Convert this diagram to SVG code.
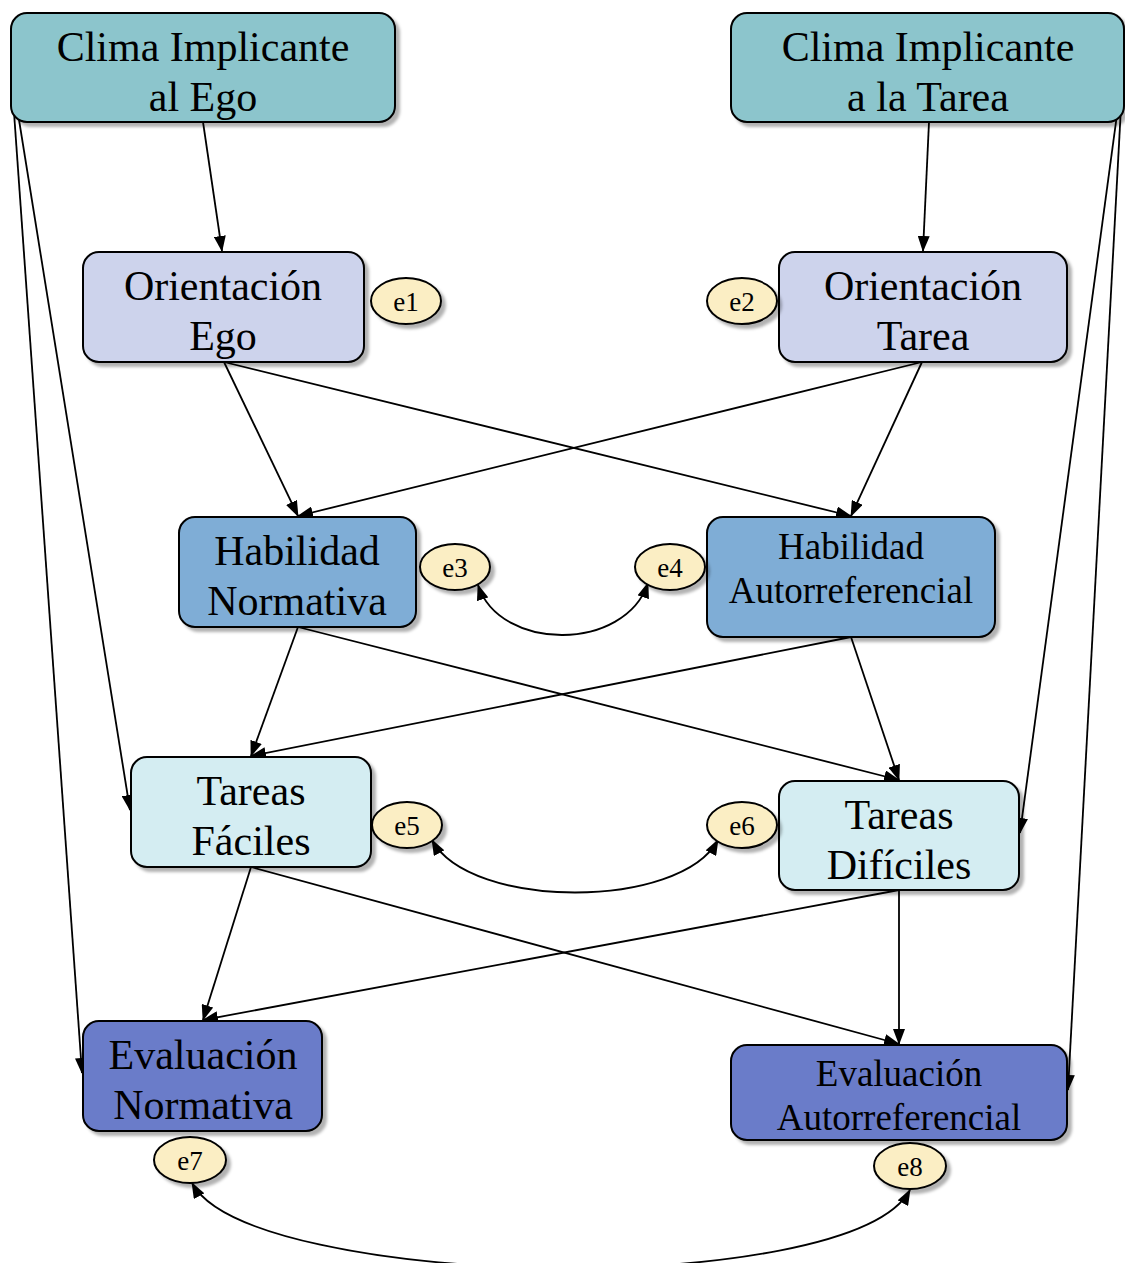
<svg xmlns="http://www.w3.org/2000/svg" width="1125" height="1263" viewBox="0 0 1125 1263">
  <defs>
    <filter id="shadow" x="-10%" y="-10%" width="130%" height="140%">
      <feDropShadow dx="4" dy="4" stdDeviation="1.5" flood-color="#000" flood-opacity="0.3"/>
    </filter>
    <marker id="arrow" markerUnits="userSpaceOnUse" markerWidth="16" markerHeight="12" refX="15" refY="6" orient="auto-start-reverse" viewBox="0 0 16 12">
      <path d="M0,0 L16,6 L0,12 z" fill="#000"/>
    </marker>
    <style>
      .box { stroke: #000; stroke-width: 2; filter: url(#shadow); }
      .err { fill: #FBEEC4; stroke: #000; stroke-width: 2; filter: url(#shadow); }
      .clima { fill: #8CC5CC; }
      .orient { fill: #CDD3EC; }
      .habil { fill: #7FADD6; }
      .tarea { fill: #D4EDF2; }
      .eval { fill: #6B7BC9; }
      text { font-family: "Liberation Serif", "DejaVu Serif", serif; fill: #000; text-anchor: middle; }
      .big { font-size: 42px; }
      .mid { font-size: 37px; }
      .small { font-size: 27px; }
      .link { fill: none; stroke: #000; stroke-width: 1.8; marker-end: url(#arrow); }
      .both { fill: none; stroke: #000; stroke-width: 1.8; marker-start: url(#arrow); marker-end: url(#arrow); }
    </style>
  </defs>

  <!-- connectors -->
  <g id="connectors">
    <line class="link" x1="203" y1="122" x2="222" y2="251"/>
    <line class="link" x1="929" y1="122" x2="923" y2="251"/>
    <line class="link" x1="224" y1="362" x2="298" y2="516"/>
    <line class="link" x1="224" y1="362" x2="851" y2="516"/>
    <line class="link" x1="922" y1="362" x2="298" y2="516"/>
    <line class="link" x1="922" y1="362" x2="851" y2="516"/>
    <line class="link" x1="298" y1="627" x2="251" y2="756"/>
    <line class="link" x1="298" y1="627" x2="899" y2="780"/>
    <line class="link" x1="851" y1="637" x2="251" y2="756"/>
    <line class="link" x1="851" y1="637" x2="899" y2="780"/>
    <line class="link" x1="251" y1="867" x2="203" y2="1020"/>
    <line class="link" x1="251" y1="867" x2="899" y2="1044"/>
    <line class="link" x1="899" y1="890" x2="203" y2="1020"/>
    <line class="link" x1="899" y1="890" x2="899" y2="1044"/>
    <line class="link" x1="11" y1="70" x2="130" y2="810"/>
    <line class="link" x1="11" y1="70" x2="82" y2="1073"/>
    <line class="link" x1="1123" y1="70" x2="1020" y2="833"/>
    <line class="link" x1="1123" y1="70" x2="1068" y2="1090"/>
    <path class="both" d="M478,585 C500,652 625,652 648,583"/>
    <path class="both" d="M432,840 C470,910 680,910 718,840"/>
    <path class="both" d="M192,1183 C250,1290 850,1300 910,1190"/>
  </g>

  <g id="clima-ego">
    <rect class="box clima" x="11" y="13" width="384" height="109" rx="16"/>
    <text class="big" x="203" y="61">Clima Implicante</text>
    <text class="big" x="203" y="111">al Ego</text>
  </g>
  <g id="clima-tarea">
    <rect class="box clima" x="731" y="13" width="393" height="109" rx="16"/>
    <text class="big" x="928" y="61">Clima Implicante</text>
    <text class="big" x="928" y="111">a la Tarea</text>
  </g>

  <g id="orientacion-ego">
    <rect class="box orient" x="83" y="252" width="281" height="110" rx="16"/>
    <text class="big" x="223" y="300">Orientación</text>
    <text class="big" x="223" y="350">Ego</text>
  </g>
  <g id="orientacion-tarea">
    <rect class="box orient" x="779" y="252" width="288" height="110" rx="16"/>
    <text class="big" x="923" y="300">Orientación</text>
    <text class="big" x="923" y="350">Tarea</text>
  </g>

  <g id="habilidad-normativa">
    <rect class="box habil" x="179" y="517" width="237" height="110" rx="16"/>
    <text class="big" x="297" y="565">Habilidad</text>
    <text class="big" x="297" y="615">Normativa</text>
  </g>
  <g id="habilidad-autorreferencial">
    <rect class="box habil" x="707" y="517" width="288" height="120" rx="16"/>
    <text class="mid" x="851" y="559">Habilidad</text>
    <text class="mid" x="851" y="603">Autorreferencial</text>
  </g>

  <g id="tareas-faciles">
    <rect class="box tarea" x="131" y="757" width="240" height="110" rx="16"/>
    <text class="big" x="251" y="805">Tareas</text>
    <text class="big" x="251" y="855">Fáciles</text>
  </g>
  <g id="tareas-dificiles">
    <rect class="box tarea" x="779" y="781" width="240" height="109" rx="16"/>
    <text class="big" x="899" y="829">Tareas</text>
    <text class="big" x="899" y="879">Difíciles</text>
  </g>

  <g id="evaluacion-normativa">
    <rect class="box eval" x="83" y="1021" width="239" height="110" rx="16"/>
    <text class="big" x="203" y="1069">Evaluación</text>
    <text class="big" x="203" y="1119">Normativa</text>
  </g>
  <g id="evaluacion-autorreferencial">
    <rect class="box eval" x="731" y="1045" width="336" height="95" rx="16"/>
    <text class="mid" x="899" y="1086">Evaluación</text>
    <text class="mid" x="899" y="1130">Autorreferencial</text>
  </g>

  <!-- error terms -->
  <g id="e1"><ellipse class="err" cx="406" cy="301" rx="35" ry="23"/><text class="small" x="406" y="311">e1</text></g>
  <g id="e2"><ellipse class="err" cx="742" cy="301" rx="35" ry="23"/><text class="small" x="742" y="311">e2</text></g>
  <g id="e3"><ellipse class="err" cx="455" cy="567" rx="35" ry="23"/><text class="small" x="455" y="577">e3</text></g>
  <g id="e4"><ellipse class="err" cx="670" cy="567" rx="35" ry="23"/><text class="small" x="670" y="577">e4</text></g>
  <g id="e5"><ellipse class="err" cx="407" cy="825" rx="35" ry="23"/><text class="small" x="407" y="835">e5</text></g>
  <g id="e6"><ellipse class="err" cx="742" cy="825" rx="35" ry="23"/><text class="small" x="742" y="835">e6</text></g>
  <g id="e7"><ellipse class="err" cx="190" cy="1160" rx="36" ry="23"/><text class="small" x="190" y="1170">e7</text></g>
  <g id="e8"><ellipse class="err" cx="910" cy="1166" rx="36" ry="23"/><text class="small" x="910" y="1176">e8</text></g>
</svg>
